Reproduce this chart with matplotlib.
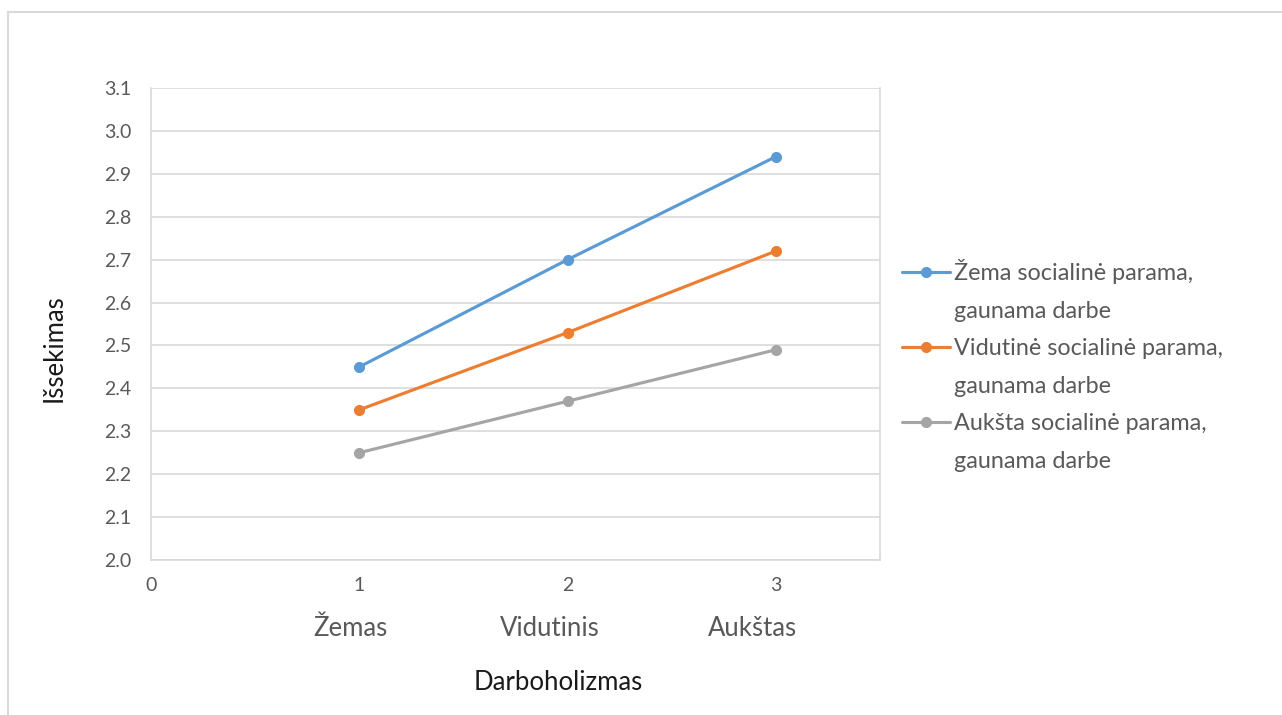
import matplotlib
matplotlib.use('Agg')
import matplotlib.pyplot as plt
import matplotlib.transforms as mtransforms
from matplotlib.lines import Line2D
from matplotlib.patches import Rectangle

plt.rcParams['font.family'] = ['Lato', 'DejaVu Sans']

# data
x_vals = [1, 2, 3]
categories = ['Žemas', 'Vidutinis', 'Aukštas']
series_names = [
    'Žema socialinė parama,\ngaunama darbe',
    'Vidutinė socialinė parama,\ngaunama darbe',
    'Aukšta socialinė parama,\ngaunama darbe',
]
low_support = [2.45, 2.70, 2.94]
mid_support = [2.35, 2.53, 2.72]
high_support = [2.25, 2.37, 2.49]
y_ticks = [2.0, 2.1, 2.2, 2.3, 2.4, 2.5, 2.6, 2.7, 2.8, 2.9, 3.0, 3.1]

COLORS = ['#5b9bd5', '#ed7d31', '#a5a5a5']
GRID = '#d9d9d9'
TICK_TEXT = '#595959'
BIG = 18.5
LEG = 16.8

fig = plt.figure(figsize=(12.82, 7.15), dpi=100)
fig.patches.append(Rectangle((8 / 1282, -0.01), 1.0, 1 - 12 / 715 + 0.01,
                             transform=fig.transFigure, fill=False,
                             edgecolor='#d9d9d9', linewidth=1.5))

ax = fig.add_axes([151 / 1282, 155 / 715, 729 / 1282, 472 / 715])

for ys, name, c in zip([low_support, mid_support, high_support], series_names, COLORS):
    ax.plot(x_vals, ys, color=c, linewidth=2.25, marker='o', markersize=7,
            label=name, solid_capstyle='round')

ax.set_xlim(0, 3.5)
ax.set_ylim(2.0, 3.1)
ax.set_yticks(y_ticks)
ax.set_yticklabels([f'{v:.1f}' for v in y_ticks])
ax.set_xticks([0, 1, 2, 3])
ax.yaxis.grid(True, color=GRID, linewidth=1.2)
ax.set_axisbelow(True)
for s in ['left', 'right', 'bottom']:
    ax.spines[s].set_color(GRID)
    ax.spines[s].set_linewidth(1.2)
ax.spines['top'].set_visible(False)
ax.tick_params(length=0, labelsize=14, labelcolor=TICK_TEXT)
ax.tick_params(axis='y', pad=14)
ax.tick_params(axis='x', pad=12)

# category labels under the numeric ticks (slightly left of the ticks, as in Excel)
shifts_px = [-9, -18, -23]
base = mtransforms.blended_transform_factory(ax.transData, fig.transFigure)
for xv, lab, dx in zip(x_vals, categories, shifts_px):
    tr = mtransforms.offset_copy(base, fig=fig, x=dx, y=0, units='dots')
    ax.text(xv, 1 - 628 / 715, lab, transform=tr, ha='center', va='center',
            fontsize=BIG, color=TICK_TEXT)

fig.text(558 / 1282, 1 - 683 / 715, 'Darboholizmas', ha='center', va='center',
         fontsize=BIG, color='#1a1a1a')
fig.text(54 / 1282, 1 - 348 / 715, 'Išsekimas', ha='center', va='center',
         rotation=90, fontsize=BIG, color='#1a1a1a')

# legend: marker sits on the first line of each wrapped label, like Excel
handles, labels = ax.get_legend_handles_labels()
leg_handles, leg_labels = [], []
for h, lab in zip(handles, labels):
    first, second = lab.split('\n')
    leg_handles += [h, Line2D([], [], color='none')]
    leg_labels += [first, second]

leg = fig.legend(leg_handles, leg_labels, loc='upper left',
                 bbox_to_anchor=(902 / 1282, 1 - 259 / 715),
                 frameon=False, fontsize=LEG, handlelength=2.05, handletextpad=0.2,
                 labelspacing=0.71, borderaxespad=0, borderpad=0)
for t in leg.get_texts():
    t.set_color(TICK_TEXT)

fig.savefig('out.png', dpi=100, facecolor='white')
